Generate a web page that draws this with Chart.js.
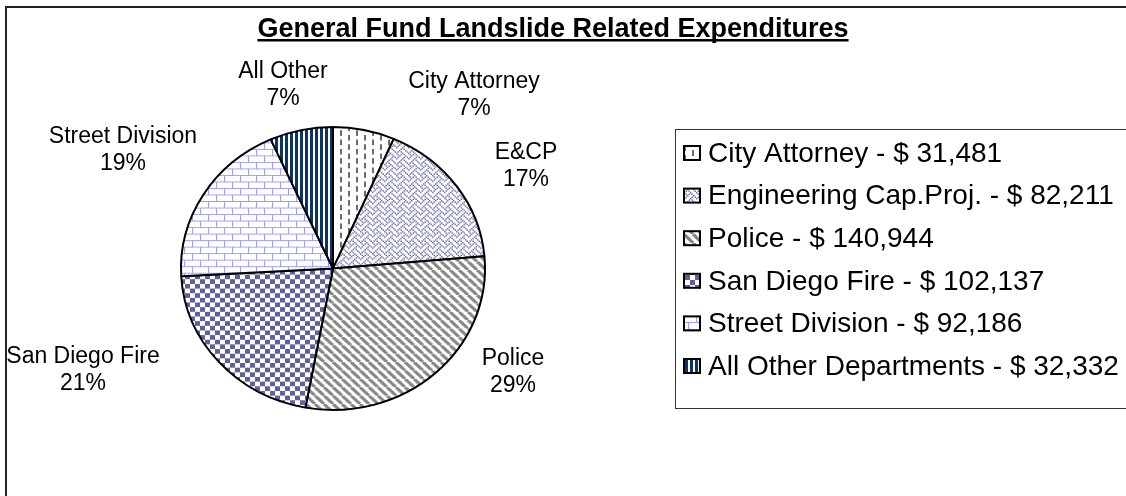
<!DOCTYPE html>
<html>
<head>
<meta charset="utf-8">
<script src="https://cdn.jsdelivr.net/npm/chart.js@4.4.1/dist/chart.umd.min.js"></script>
<style>
  html, body { margin:0; padding:0; background:#fff; }
  #wrap { width:1126px; height:496px; position:relative; }
</style>
</head>
<body>
<div id="wrap"><canvas id="chart" width="1126" height="496"></canvas></div>
<script>
// data
const legendNames = ['City Attorney', 'Engineering Cap.Proj.', 'Police', 'San Diego Fire', 'Street Division', 'All Other Departments'];
const sliceNames = ['City Attorney', 'E&CP', 'Police', 'San Diego Fire', 'Street Division', 'All Other'];
const amounts = [31481, 82211, 140944, 102137, 92186, 32332];
const chartTitle = 'General Fund Landslide Related Expenditures';

const FONT = '"Liberation Sans", Arial, sans-serif';
const total = amounts.reduce((a,b)=>a+b, 0);
const pct = v => `${Math.round(v/total*100)}%`;
const money = v => `$ ${v.toLocaleString('en-US')}`;

// ----- fill patterns (excel style) -----
function tile(w, h, draw){
  const c = document.createElement('canvas'); c.width = w; c.height = h;
  const g = c.getContext('2d'); g.fillStyle = '#fff'; g.fillRect(0,0,w,h);
  draw(g); return c;
}
function bitmap(rows, color, px){
  return tile(8*px, rows.length*px, g => {
    g.fillStyle = color;
    rows.forEach((r,y) => { for(let x=0;x<8;x++) if (r & (0x80>>x)) g.fillRect(x*px, y*px, px, px); });
  });
}
const pctx = document.createElement('canvas').getContext('2d');
const patterns = [
  // dashed vertical lines
  tile(16, 10, g => { g.fillStyle='#6a6a6a'; g.fillRect(4,0,2,6); g.fillRect(12,5,2,5); g.fillRect(12,0,2,1); }),
  // weave
  bitmap([0x88,0x54,0x22,0x45,0x88,0x14,0x22,0x51], '#6f6fae', 1.5),
  // wide downward diagonal
  tile(9, 9, g => { g.strokeStyle='#868686'; g.lineWidth=3.2; g.beginPath(); for(const k of [-9,0,9]){ g.moveTo(k,0); g.lineTo(k+9,9); } g.stroke(); }),
  // checker
  tile(10, 10, g => { g.fillStyle='#60609c'; g.fillRect(0,0,5,5); g.fillRect(5,5,5,5); }),
  // bricks
  tile(16, 14, g => {
    g.strokeStyle='#9c9cff'; g.lineWidth=1; g.beginPath();
    g.moveTo(0,0.5); g.lineTo(16,0.5); g.moveTo(0,7.5); g.lineTo(16,7.5);
    g.moveTo(0.5,0); g.lineTo(0.5,7); g.moveTo(8.5,7); g.lineTo(8.5,14);
    g.stroke();
  }),
  // vertical stripes
  tile(5, 1, g => { g.fillStyle='#0b3566'; g.fillRect(0,0,3,1); })
].map(t => pctx.createPattern(t, 'repeat'));

// label block offsets from pie centre (labels were hand placed in the original)
const labelOffsets = [[141,-173],[193,-102],[180,104],[-250,102],[-210,-118],[-50,-183]];

const squash = {
  id:'squash',
  beforeDatasetsDraw(chart){
    const a = chart.getDatasetMeta(0).data[0]; const c = chart.ctx;
    c.save(); c.translate(a.x, a.y); c.scale(1, 283/304); c.translate(-a.x, -a.y);
  },
  afterDatasetsDraw(chart){ chart.ctx.restore(); }
};

const decor = {
  id:'decor',
  afterDraw(chart){
    const c = chart.ctx; const a = chart.getDatasetMeta(0).data[0];
    c.save();
    // outer frame
    c.strokeStyle='#222'; c.lineWidth=2; c.strokeRect(6, 7, 1200, 600);
    // title
    c.fillStyle='#000'; c.font=`bold 27px ${FONT}`; c.textAlign='center'; c.textBaseline='alphabetic';
    c.fillText(chartTitle, 553, 37);
    const tw = c.measureText(chartTitle).width;
    c.fillRect(553 - tw/2, 39, tw, 2.5);
    // slice labels
    c.font=`23px ${FONT}`; c.textBaseline='middle';
    sliceNames.forEach((n,i) => {
      const [dx,dy] = labelOffsets[i];
      c.fillText(n, a.x + dx, a.y + dy - 13.5);
      c.fillText(pct(amounts[i]), a.x + dx, a.y + dy + 13.5);
    });
    // legend
    c.strokeStyle='#333'; c.lineWidth=1; c.strokeRect(675.5, 129.5, 600, 279);
    c.font=`28px ${FONT}`; c.textAlign='left';
    legendNames.forEach((n,i) => {
      const y = 153 + i*42.6;
      c.fillStyle = patterns[i]; c.fillRect(684, y-7, 16, 14);
      c.strokeStyle='#000'; c.lineWidth=2; c.strokeRect(684, y-7, 16, 14);
      c.fillStyle='#000'; c.fillText(`${n} - ${money(amounts[i])}`, 708, y+1);
    });
    c.restore();
  }
};

new Chart(document.getElementById('chart'), {
  type:'pie',
  data:{ labels: legendNames, datasets:[{ data: amounts, backgroundColor: patterns, borderColor:'#000', borderWidth:2, clip:false }] },
  options:{
    responsive:false, animation:false, devicePixelRatio:1,
    radius:152,
    layout:{ padding:{ left:181, right:641, top:117, bottom:76 } },
    plugins:{ legend:{display:false}, tooltip:{enabled:false}, title:{display:false} }
  },
  plugins:[squash, decor]
});
</script>
</body>
</html>
